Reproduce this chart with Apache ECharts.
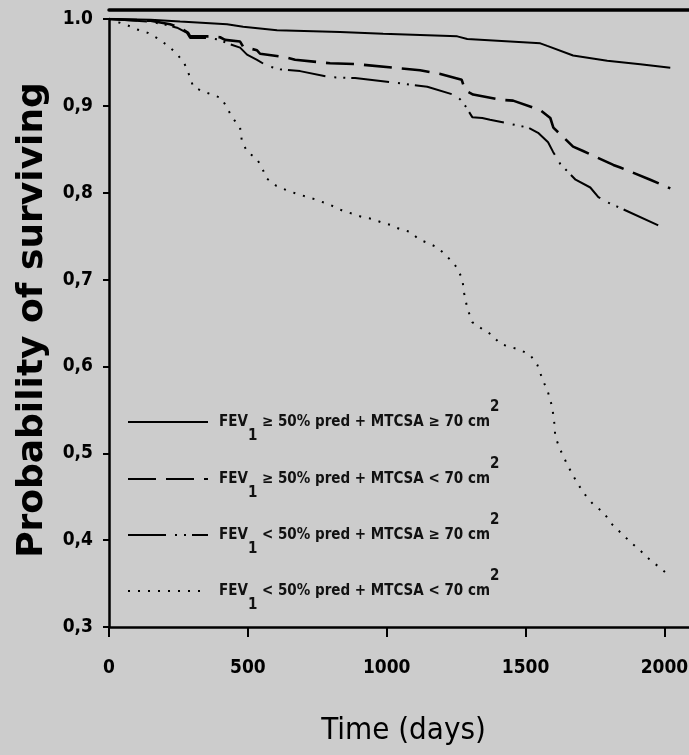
<!DOCTYPE html>
<html>
<head>
<meta charset="utf-8">
<script src="https://cdn.jsdelivr.net/npm/echarts@6/dist/echarts.min.js"></script>
<style>
  html, body { margin: 0; padding: 0; background: #cccccc; }
  #chart { width: 689px; height: 755px; }
</style>
</head>
<body>
<div id="chart"></div>
<script>
// series names (legend text)
var seriesNames = [
    'FEV₁ ≥ 50% pred + MTCSA ≥ 70 cm²',
    'FEV₁ ≥ 50% pred + MTCSA < 70 cm²',
    'FEV₁ < 50% pred + MTCSA ≥ 70 cm²',
    'FEV₁ < 50% pred + MTCSA < 70 cm²'
];
var xTickLabels = ['0', '500', '1000', '1500', '2000'];
var yTickLabels = ['0,3', '0,4', '0,5', '0,6', '0,7', '0,8', '0,9', '1.0'];

// [days, probability]
var solidData = [[0,1],[150,0.999],[256,0.997],[425,0.994],[483,0.991],[605,0.987],[832,0.985],
    [987,0.983],[1254,0.98],[1290,0.977],[1553,0.972],[1578,0.969],[1671,0.958],[1794,0.952],
    [1913,0.948],[2021,0.944]];
var dashedData = [[0,1],[150,0.998],[220,0.994],[256,0.99],[285,0.984],[292,0.98],[364,0.98],
    [400,0.979],[418,0.976],[472,0.974],[483,0.968],[533,0.964],[544,0.96],[634,0.956],[670,0.953],
    [796,0.949],[893,0.948],[1120,0.941],[1190,0.937],[1270,0.93],[1282,0.918],[1311,0.913],
    [1412,0.907],[1455,0.906],[1553,0.895],[1589,0.886],[1600,0.875],[1671,0.853],[1707,0.848],
    [1816,0.832],[1841,0.829],[1949,0.815],[2021,0.805]];
var dashDotData = [[0,1],[148,0.997],[209,0.993],[245,0.99],[281,0.984],[292,0.978],[364,0.978],
    [400,0.976],[425,0.972],[472,0.967],[497,0.959],[533,0.953],[569,0.946],[616,0.942],[688,0.94],
    [796,0.933],[886,0.932],[1048,0.926],[1146,0.922],[1250,0.912],[1275,0.904],[1308,0.887],
    [1344,0.886],[1372,0.884],[1509,0.875],[1545,0.869],[1581,0.858],[1599,0.847],[1625,0.833],
    [1680,0.815],[1733,0.806],[1762,0.795],[1794,0.789],[1830,0.784],[1974,0.763],[1999,0.758]];
var dottedData = [[0,1],[36,0.996],[65,0.993],[101,0.988],[140,0.984],[173,0.978],[209,0.97],
    [241,0.961],[270,0.95],[292,0.933],[303,0.922],[335,0.917],[371,0.913],[404,0.909],[421,0.9],
    [443,0.887],[472,0.875],[479,0.858],[501,0.846],[530,0.84],[551,0.829],[566,0.817],[602,0.808],
    [638,0.803],[674,0.799],[746,0.792],[796,0.786],[843,0.779],[875,0.776],[911,0.772],[944,0.77],
    [980,0.766],[1012,0.763],[1048,0.758],[1084,0.755],[1117,0.746],[1149,0.742],[1182,0.737],
    [1214,0.728],[1250,0.715],[1272,0.701],[1279,0.684],[1290,0.667],[1308,0.651],[1344,0.643],
    [1380,0.636],[1408,0.626],[1481,0.619],[1517,0.613],[1542,0.602],[1560,0.586],[1581,0.57],
    [1596,0.553],[1603,0.536],[1607,0.519],[1625,0.504],[1650,0.487],[1675,0.472],[1707,0.455],
    [1744,0.441],[1780,0.432],[1812,0.418],[1880,0.397],[1913,0.388],[1949,0.377],[1985,0.368],
    [2017,0.359]];

var narrow = '"Liberation Sans Narrow", "DejaVu Sans Condensed", "Arial Narrow", sans-serif';
var myChart = echarts.init(document.getElementById('chart'));

var lineStyles = [
    {width: 2, type: 'solid'},
    {width: 2.6, type: [28, 10]},
    {width: 2, type: [38, 9, 2, 7, 2, 6]},
    {width: 2, type: [2, 8]}
];
var allData = [solidData, dashedData, dashDotData, dottedData];

var series = allData.map(function (d, i) {
    return {
        name: seriesNames[i],
        type: 'line',
        symbol: 'none',
        silent: true,
        data: d,
        itemStyle: {color: '#000'},
        lineStyle: {color: '#000', width: lineStyles[i].width, type: lineStyles[i].type, cap: 'butt'}
    };
});

// legend text with sub/superscript
function legendText(name) {
    var s = name.replace('FEV₁', '').replace(' cm²', ' cm');
    return '{m|FEV}{sub|1}{m|' + s + '}{sup|2}';
}
var legendRows = [422, 479, 535, 591];
var legends = seriesNames.map(function (n, i) {
    return {
        data: [n],
        left: 127,
        top: legendRows[i] - 22,
        padding: 0,
        itemWidth: 80,
        itemHeight: 14,
        selectedMode: false,
        formatter: legendText,
        itemStyle: {color: 'transparent', borderColor: 'transparent', borderWidth: 0},
        textStyle: {
            padding: [0, 0, 0, 6],
            rich: {
                m: {fontFamily: narrow, fontSize: 15, fontWeight: 'bold', color: '#111', lineHeight: 44, verticalAlign: 'middle'},
                sub: {fontFamily: narrow, fontSize: 15, fontWeight: 'bold', color: '#111', lineHeight: 20, verticalAlign: 'bottom'},
                sup: {fontFamily: narrow, fontSize: 15, fontWeight: 'bold', color: '#111', lineHeight: 20, verticalAlign: 'top'}
            }
        }
    };
});

var option = {
    backgroundColor: '#cccccc',
    animation: false,
    grid: {left: 109, right: -31, top: 19, bottom: 128, outerBoundsMode: 'none'},
    legend: legends,
    xAxis: [{
        type: 'value',
        min: 0,
        max: 2200,
        interval: 500,
        name: 'Time (days)',
        nameLocation: 'middle',
        nameGap: 88,
        nameTextStyle: {fontFamily: narrow, fontSize: 31, color: '#000', padding: [0, 22, 0, 0]},
        axisLine: {lineStyle: {color: '#000', width: 2.5}},
        axisTick: {length: 10, lineStyle: {color: '#000', width: 2}},
        axisLabel: {
            margin: 32,
            fontFamily: narrow, fontSize: 19, fontWeight: 'bold', color: '#000',
            formatter: function (v) {
                return v % 500 === 0 ? (xTickLabels[v / 500] || '') : '';
            }
        },
        splitLine: {show: false}
    }, {
        type: 'value',
        position: 'top',
        offset: 9,
        min: 0,
        max: 2200,
        axisLine: {show: true, lineStyle: {color: '#000', width: 3.5}},
        axisTick: {show: false},
        axisLabel: {show: false},
        splitLine: {show: false}
    }],
    yAxis: {
        type: 'value',
        min: 0.3,
        max: 1.0,
        interval: 0.1,
        name: 'Probability of surviving',
        nameLocation: 'middle',
        nameRotate: 90,
        nameGap: 58,
        nameTextStyle: {fontFamily: '"DejaVu Sans", sans-serif', fontSize: 36, fontWeight: 'bold', color: '#000', padding: [0, 0, 0, 6]},
        axisLine: {show: true, lineStyle: {color: '#000', width: 2.5}},
        axisTick: {show: true, length: 6, lineStyle: {color: '#000', width: 2}},
        axisLabel: {
            margin: 16,
            fontFamily: narrow, fontSize: 19, fontWeight: 'bold', color: '#000',
            formatter: function (v) {
                var i = Math.round((v - 0.3) * 10);
                return yTickLabels[i] || '';
            }
        },
        splitLine: {show: false}
    },
    series: series
};
myChart.setOption(option);
</script>
</body>
</html>
